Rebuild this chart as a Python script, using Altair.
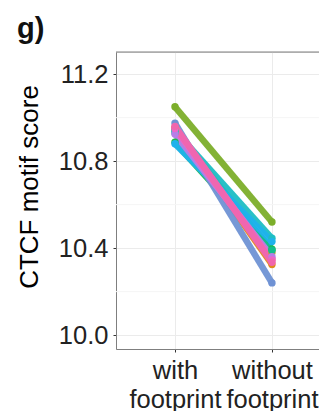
import altair as alt
import pandas as pd

# ---- data ----
conditions = ["with", "without"]
series = ["m1", "m2", "m3", "m4", "m5", "m6", "m7", "m8", "m9", "m10", "m11", "m12"]
colors = ["#F8766D", "#E08A1E", "#BFA030", "#7CAE2A", "#1CB84A", "#12BE8E",
          "#1EBEC4", "#1FB2EC", "#6F92D4", "#B77EE8", "#EE66C8", "#F066AE"]
with_scores = [10.95, 10.955, 10.945, 11.05, 10.887, 10.93,
               10.94, 10.880, 10.975, 10.925, 10.95, 10.96]
without_scores = [10.35, 10.325, 10.38, 10.52, 10.395, 10.39,
                  10.445, 10.43, 10.24, 10.36, 10.345, 10.335]
y_ticks = [10.0, 10.4, 10.8, 11.2]
y_minor = [10.2, 10.6, 11.0]
panel_label = ["g)"]

rows = []
for i, s in enumerate(series):
    rows.append({"series": s, "cond": conditions[0], "pos": 0, "score": with_scores[i]})
    rows.append({"series": s, "cond": conditions[1], "pos": 1, "score": without_scores[i]})
df = pd.DataFrame(rows)

W, H = 203, 297
FONT = "Liberation Sans"

x_enc = alt.X(
    "pos:Q",
    scale=alt.Scale(domain=[-0.608, 1.485], nice=False, zero=False),
    axis=alt.Axis(
        values=[0, 1],
        labelExpr="datum.value == 0 ? ['with', 'footprint'] : ['without', 'footprint']",
        title=None, grid=True, gridColor="#EBEBEB", gridWidth=1,
        tickColor="#333333", tickSize=3, tickWidth=1,
        domainColor="#7F7F7F", domainWidth=1,
        labelFontSize=25.5, labelLineHeight=29, labelPadding=6,
        labelColor="#222222", labelFont=FONT,
    ),
)
y_enc = alt.Y(
    "score:Q",
    scale=alt.Scale(domain=[9.936, 11.302], nice=False, zero=False),
    axis=alt.Axis(
        values=y_ticks, format=".1f", grid=True, gridColor="#EBEBEB", gridWidth=1,
        tickColor="#333333", tickSize=3, tickWidth=1,
        domainColor="#7F7F7F", domainWidth=1,
        labelFontSize=25.5, labelPadding=5, labelColor="#222222", labelFont=FONT,
        title="CTCF motif score", titleFontSize=26, titleFontWeight="normal",
        titleFont=FONT, titleColor="#000000", titleBaseline="alphabetic",
        titleX=-79, titleY=134.5,
    ),
)
color_enc = alt.Color("series:N", scale=alt.Scale(domain=series, range=colors), legend=None)

minor = alt.Chart(pd.DataFrame({"v": y_minor})).mark_rule(
    color="#F5F5F5", strokeWidth=1
).encode(y=alt.Y("v:Q"))

top_border = alt.Chart(pd.DataFrame({"a": [0]})).mark_rule(
    color="#7F7F7F", strokeWidth=1
).encode(y=alt.value(0), x=alt.value(0), x2=alt.value(W))

label = alt.Chart(pd.DataFrame({"t": panel_label})).mark_text(
    align="left", baseline="alphabetic", fontSize=29, fontWeight="bold",
    font=FONT, color="#111111"
).encode(text="t:N", x=alt.value(-99), y=alt.value(-14))

lines = alt.Chart(df).mark_line(strokeWidth=6.5, opacity=0.95).encode(
    x=x_enc, y=y_enc, color=color_enc, detail="series:N", order="pos:Q"
)
points = alt.Chart(df).mark_circle(size=55, opacity=1).encode(
    x="pos:Q", y="score:Q", color=color_enc
)

chart = alt.layer(minor, lines, points, top_border, label).properties(
    width=W, height=H,
    autosize=alt.AutoSizeParams(type="none"),
    padding={"left": 108, "top": 44, "right": 0, "bottom": 62},
).configure_view(stroke=None).configure(font=FONT)

chart.save("out.html", embed_options={"renderer": "svg", "actions": False})
